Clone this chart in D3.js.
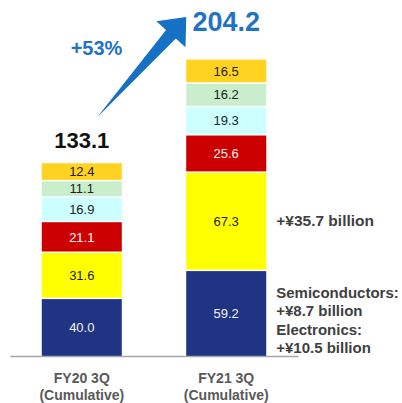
<!DOCTYPE html>
<html>
<head>
<meta charset="utf-8">
<script src="https://cdn.jsdelivr.net/npm/d3@7"></script>
<style>
  html, body { margin: 0; padding: 0; background: #ffffff; }
  svg { display: block; font-family: "Liberation Sans", Arial, sans-serif; }
</style>
</head>
<body>
<svg id="chart" width="402" height="403"></svg>
<script>
// ---- data ----
const categories = ["FY20 3Q", "FY21 3Q"];
const categorySub = ["(Cumulative)", "(Cumulative)"];
const segmentNames = ["seg1", "seg2", "seg3", "seg4", "seg5", "seg6"]; // bottom to top
const seg1 = [40.0, 59.2];
const seg2 = [31.6, 67.3];
const seg3 = [21.1, 25.6];
const seg4 = [16.9, 19.3];
const seg5 = [11.1, 16.2];
const seg6 = [12.4, 16.5];
const totals = [133.1, 204.2];
const growthLabel = "+53%";
const notes = ["+¥35.7 billion"];
const notes2 = ["Semiconductors:", "+¥8.7 billion", "Electronics:", "+¥10.5 billion"];

// ---- styles ----
const segColors = ["#1f3584", "#ffff00", "#cc0000", "#ccffff", "#c8eecb", "#ffd320"];
const segText = ["#f2f2f2", "#222222", "#f5f5f5", "#222222", "#222222", "#222222"];

const svg = d3.select("#chart");

const rows = categories.map((c, i) => ({
  cat: c,
  seg1: seg1[i], seg2: seg2[i], seg3: seg3[i], seg4: seg4[i], seg5: seg5[i], seg6: seg6[i]
}));
const stacked = d3.stack().keys(segmentNames)(rows);

const x = d3.scaleBand().domain(categories).range([10, 298]).paddingInner(0.446).paddingOuter(0.22);
const y = d3.scaleLinear().domain([0, 204.2]).range([356, 58]);
const gap = 1.5;

// bars
const layers = svg.append("g").selectAll("g").data(stacked).join("g");
layers.each(function(layer, li) {
  const g = d3.select(this);
  g.selectAll("rect").data(layer).join("rect")
    .attr("x", d => x(d.data.cat))
    .attr("width", x.bandwidth())
    .attr("y", d => y(d[1]) + gap)
    .attr("height", d => Math.max(0, y(d[0]) - y(d[1]) - gap))
    .attr("fill", segColors[li]);
  g.selectAll("text").data(layer).join("text")
    .attr("x", d => x(d.data.cat) + x.bandwidth() / 2)
    .attr("y", d => (y(d[0]) + y(d[1]) + gap) / 2)
    .attr("dy", "0.36em")
    .attr("text-anchor", "middle")
    .attr("font-size", 13)
    .attr("fill", segText[li])
    .text(d => (d[1] - d[0]).toFixed(1));
});

// axis
const axis = svg.append("g")
  .attr("transform", "translate(0,356)")
  .call(d3.axisBottom(x).tickSize(0).tickSizeOuter(0));
axis.select(".domain").attr("stroke", "#a6a6a6").attr("stroke-width", 1.5);
axis.selectAll(".tick text").each(function(d, i) {
  const t = d3.select(this);
  t.text(null).attr("y", 0).attr("dy", null)
    .attr("font-family", "'Liberation Sans', Arial, sans-serif")
    .attr("font-weight", "bold").attr("font-size", 14).attr("fill", "#595959");
  t.append("tspan").attr("x", 0).attr("y", 27).text(d);
  t.append("tspan").attr("x", 0).attr("y", 44).text(categorySub[categories.indexOf(d)]);
});

// totals
svg.append("text")
  .attr("x", x(categories[0]) + x.bandwidth() / 2)
  .attr("y", y(totals[0]) - 14)
  .attr("text-anchor", "middle")
  .attr("font-size", 22).attr("font-weight", "bold").attr("fill", "#111111")
  .text(totals[0].toFixed(1));
svg.append("text")
  .attr("x", x(categories[1]) + x.bandwidth() / 2)
  .attr("y", y(totals[1]) - 27)
  .attr("text-anchor", "middle")
  .attr("font-size", 27).attr("font-weight", "bold").attr("fill", "#1f73c6")
  .text(totals[1].toFixed(1));

// growth arrow
const tail = [x(categories[0]) + x.bandwidth() / 2 + 15, y(totals[0]) - 44];
const tip = [x(categories[1]), y(totals[1]) - 41];
const dx = tip[0] - tail[0], dy = tip[1] - tail[1];
const len = Math.hypot(dx, dy);
const u = [dx / len, dy / len];
const n = [-u[1], u[0]];
const headLen = 23, headHalf = 19.5, shaftHalf = 6.5;
const base = [tip[0] - u[0] * headLen, tip[1] - u[1] * headLen];
const P = (p, k, v) => [p[0] + k * v[0], p[1] + k * v[1]];
const arrowPts = [
  tail,
  P(base, shaftHalf, n),
  P(base, headHalf, n),
  tip,
  P(base, -headHalf, n),
  P(base, -shaftHalf, n)
];
svg.append("path")
  .attr("d", d3.line()(arrowPts) + "Z")
  .attr("fill", "#1670c4");

svg.append("text")
  .attr("x", 96.5).attr("y", 55)
  .attr("text-anchor", "middle")
  .attr("font-size", 20).attr("font-weight", "bold").attr("fill", "#1f73c6")
  .text(growthLabel);

// notes
const noteX = x(categories[1]) + x.bandwidth() + 10;
svg.append("text")
  .attr("x", noteX).attr("y", y(seg1[1] + seg2[1] / 2) + 6)
  .attr("font-size", 15.5).attr("font-weight", "bold").attr("fill", "#404040")
  .text(notes[0]);
svg.append("g").selectAll("text").data(notes2).join("text")
  .attr("x", noteX)
  .attr("y", (d, i) => 298 + i * 18.3)
  .attr("font-size", 15).attr("font-weight", "bold").attr("fill", "#404040")
  .text(d => d);
</script>
</body>
</html>
